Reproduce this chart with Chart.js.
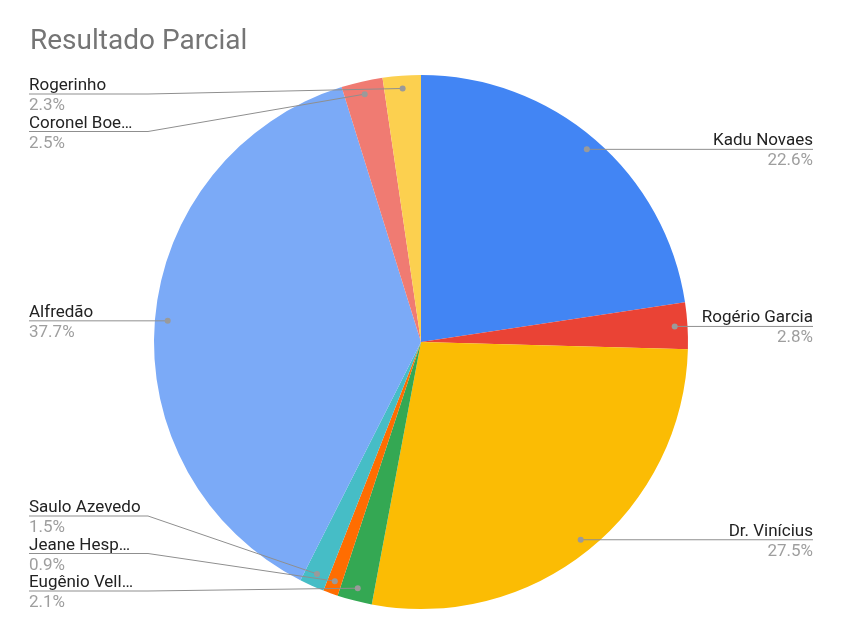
<!DOCTYPE html>
<html>
<head>
<meta charset="utf-8">
<script src="https://cdn.jsdelivr.net/npm/chart.js@4"></script>
<style>
  html, body { margin: 0; padding: 0; background: #fff; }
  #wrap { width: 842px; height: 632px; position: relative; }
</style>
</head>
<body>
<div id="wrap"><canvas id="c" width="842" height="632"></canvas></div>
<script>
const chartTitle = "Resultado Parcial";
const categories = ["Kadu Novaes", "Rogério Garcia", "Dr. Vinícius", "Eugênio Vell…", "Jeane Hesp…", "Saulo Azevedo", "Alfredão", "Coronel Boe…", "Rogerinho"];
const values = [22.6, 2.8, 27.5, 2.1, 0.9, 1.5, 37.7, 2.5, 2.3];
const colors = ["#4285F4", "#EA4335", "#FBBC04", "#34A853", "#FF6D01", "#46BDC6", "#7BAAF7", "#F07B72", "#FCD04F"];

const FONT = "Roboto, 'Noto Sans', Arial, sans-serif";

const labelPlugin = {
  id: 'calloutLabels',
  afterDraw(chart) {
    const ctx = chart.ctx;
    const meta = chart.getDatasetMeta(0);
    const total = values.reduce((a, b) => a + b, 0);
    // title
    ctx.save();
    ctx.font = "28px " + FONT;
    ctx.fillStyle = "#757575";
    ctx.textBaseline = "alphabetic";
    ctx.textAlign = "left";
    ctx.fillText(chartTitle, 30, 49);

    const items = [];
    meta.data.forEach((arc, i) => {
      const mid = (arc.startAngle + arc.endAngle) / 2;
      const r = arc.outerRadius * 0.952;
      const px = arc.x + Math.cos(mid) * r;
      const py = arc.y + Math.sin(mid) * r;
      const right = Math.cos(mid) >= 0;
      items.push({ i, px, py, right, y: py });
    });
    const minY = 94, maxY = 591, gap = 37.5;
    ['left', 'right'].forEach(side => {
      const list = items.filter(it => (side === 'right') === it.right).sort((a, b) => a.py - b.py);
      list.forEach(it => { it.y = Math.min(maxY, Math.max(minY, it.y)); });
      for (let k = 1; k < list.length; k++) list[k].y = Math.max(list[k].y, list[k - 1].y + gap);
      if (list.length) list[list.length - 1].y = Math.min(list[list.length - 1].y, maxY);
      for (let k = list.length - 2; k >= 0; k--) list[k].y = Math.min(list[k].y, list[k + 1].y - gap);
    });

    items.forEach(it => {
      const name = categories[it.i];
      const pct = (values[it.i] / total * 100).toFixed(1) + "%";
      ctx.strokeStyle = "#8f8f8f";
      ctx.lineWidth = 1;
      ctx.beginPath();
      if (it.right) {
        const endX = 813, elbowX = 695;
        ctx.moveTo(it.px, it.py);
        if (Math.abs(it.y - it.py) > 0.5) ctx.lineTo(Math.max(elbowX, it.px), it.y);
        ctx.lineTo(endX, it.y);
      } else {
        const endX = 29, elbowX = 148;
        ctx.moveTo(it.px, it.py);
        if (Math.abs(it.y - it.py) > 0.5) ctx.lineTo(Math.min(elbowX, it.px), it.y);
        ctx.lineTo(endX, it.y);
      }
      ctx.stroke();
      ctx.fillStyle = "#9a9a9a";
      ctx.beginPath();
      ctx.arc(it.px, it.py, 3, 0, Math.PI * 2);
      ctx.fill();

      ctx.font = "17px " + FONT;
      ctx.textAlign = it.right ? "right" : "left";
      const tx = it.right ? 813 : 29;
      ctx.fillStyle = "#222222";
      ctx.fillText(name, tx, it.y - 4);
      ctx.fillStyle = "#9e9e9e";
      ctx.fillText(pct, tx, it.y + 16);
    });
    ctx.restore();
  }
};

new Chart(document.getElementById('c'), {
  type: 'pie',
  data: {
    labels: categories,
    datasets: [{
      data: values,
      backgroundColor: colors,
      borderWidth: 0
    }]
  },
  options: {
    responsive: false,
    animation: false,
    layout: { padding: { top: 75, bottom: 23, left: 154, right: 154 } },
    plugins: {
      legend: { display: false },
      tooltip: { enabled: false },
      title: { display: false }
    }
  },
  plugins: [labelPlugin]
});
</script>
</body>
</html>
